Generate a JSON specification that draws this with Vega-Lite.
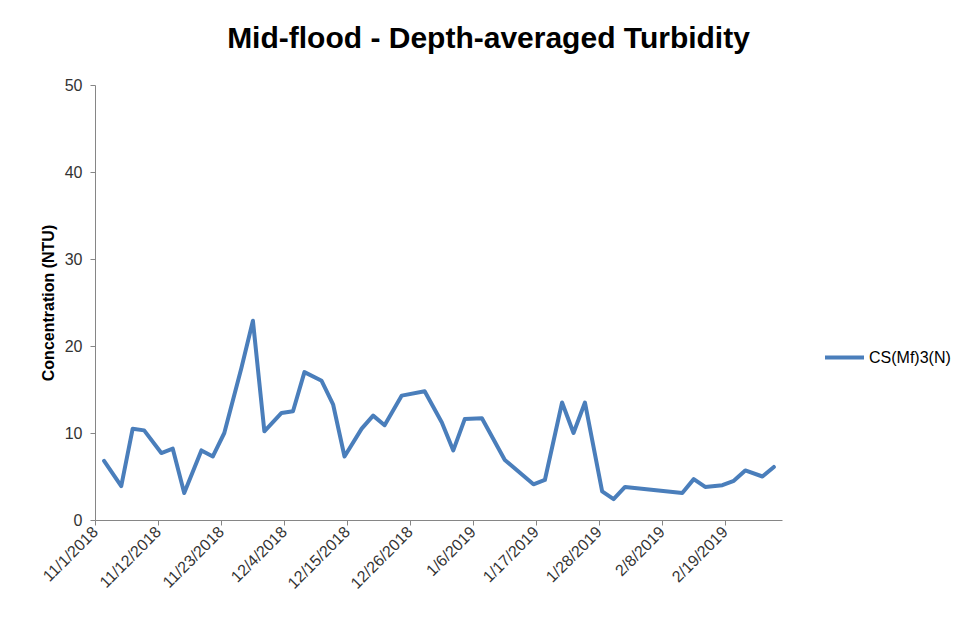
{
  "$schema": "https://vega.github.io/schema/vega-lite/v6.json",
  "autosize": {"type": "none"},
  "width": 687,
  "height": 435,
  "padding": {"left": 95, "top": 85, "right": 173, "bottom": 100},
  "background": "white",
  "title": {
    "text": "Mid-flood - Depth-averaged Turbidity",
    "font": "Liberation Sans",
    "fontSize": 30,
    "fontWeight": "bold",
    "color": "#000000",
    "anchor": "middle",
    "dx": 50,
    "offset": 23
  },
  "config": {
    "view": {"stroke": null},
    "font": "Liberation Sans",
    "axis": {
      "grid": false,
      "domainColor": "#868686",
      "tickColor": "#868686",
      "tickSize": 5,
      "labelColor": "#333333",
      "labelFontSize": 16,
      "labelFont": "Liberation Sans"
    }
  },
  "data": {
    "values": [
      {"date": "2018-11-02T14:00:00Z", "value": 6.8},
      {"date": "2018-11-05T14:00:00Z", "value": 3.9},
      {"date": "2018-11-07T14:00:00Z", "value": 10.5},
      {"date": "2018-11-09T14:00:00Z", "value": 10.3},
      {"date": "2018-11-12T14:00:00Z", "value": 7.7},
      {"date": "2018-11-14T14:00:00Z", "value": 8.2},
      {"date": "2018-11-16T14:00:00Z", "value": 3.1},
      {"date": "2018-11-19T14:00:00Z", "value": 8.0},
      {"date": "2018-11-21T14:00:00Z", "value": 7.3},
      {"date": "2018-11-23T14:00:00Z", "value": 10.0},
      {"date": "2018-11-26T14:00:00Z", "value": 17.5},
      {"date": "2018-11-28T14:00:00Z", "value": 22.9},
      {"date": "2018-11-30T14:00:00Z", "value": 10.2},
      {"date": "2018-12-03T14:00:00Z", "value": 12.3},
      {"date": "2018-12-05T14:00:00Z", "value": 12.5},
      {"date": "2018-12-07T14:00:00Z", "value": 17.0},
      {"date": "2018-12-10T14:00:00Z", "value": 16.0},
      {"date": "2018-12-12T14:00:00Z", "value": 13.3},
      {"date": "2018-12-14T14:00:00Z", "value": 7.3},
      {"date": "2018-12-17T14:00:00Z", "value": 10.5},
      {"date": "2018-12-19T14:00:00Z", "value": 12.0},
      {"date": "2018-12-21T14:00:00Z", "value": 10.9},
      {"date": "2018-12-24T14:00:00Z", "value": 14.3},
      {"date": "2018-12-28T14:00:00Z", "value": 14.8},
      {"date": "2018-12-31T14:00:00Z", "value": 11.2},
      {"date": "2019-01-02T14:00:00Z", "value": 8.0},
      {"date": "2019-01-04T14:00:00Z", "value": 11.6},
      {"date": "2019-01-07T14:00:00Z", "value": 11.7},
      {"date": "2019-01-11T14:00:00Z", "value": 6.9},
      {"date": "2019-01-16T14:00:00Z", "value": 4.1},
      {"date": "2019-01-18T14:00:00Z", "value": 4.6},
      {"date": "2019-01-21T14:00:00Z", "value": 13.5},
      {"date": "2019-01-23T14:00:00Z", "value": 10.0},
      {"date": "2019-01-25T14:00:00Z", "value": 13.5},
      {"date": "2019-01-28T14:00:00Z", "value": 3.3},
      {"date": "2019-01-30T14:00:00Z", "value": 2.4},
      {"date": "2019-02-01T14:00:00Z", "value": 3.8},
      {"date": "2019-02-11T14:00:00Z", "value": 3.1},
      {"date": "2019-02-13T14:00:00Z", "value": 4.7},
      {"date": "2019-02-15T14:00:00Z", "value": 3.8},
      {"date": "2019-02-18T14:00:00Z", "value": 4.0},
      {"date": "2019-02-20T14:00:00Z", "value": 4.5},
      {"date": "2019-02-22T14:00:00Z", "value": 5.7},
      {"date": "2019-02-25T14:00:00Z", "value": 5.0},
      {"date": "2019-02-27T14:00:00Z", "value": 6.1}
    ]
  },
  "mark": {"type": "line", "strokeWidth": 4, "strokeJoin": "round", "strokeCap": "round"},
  "encoding": {
    "x": {
      "field": "date",
      "type": "temporal",
      "scale": {
        "type": "utc",
        "domain": [
          {"year": 2018, "month": 11, "date": 1, "utc": true},
          {"year": 2019, "month": 3, "date": 1, "utc": true}
        ]
      },
      "axis": {
        "title": null,
        "format": "%-m/%-d/%Y",
        "labelAngle": -45,
        "labelAlign": "right",
        "labelBaseline": "middle",
        "labelPadding": 4,
        "labelOverlap": false,
        "labelFlush": false,
        "values": [
          {"year": 2018, "month": 11, "date": 1, "utc": true},
          {"year": 2018, "month": 11, "date": 12, "utc": true},
          {"year": 2018, "month": 11, "date": 23, "utc": true},
          {"year": 2018, "month": 12, "date": 4, "utc": true},
          {"year": 2018, "month": 12, "date": 15, "utc": true},
          {"year": 2018, "month": 12, "date": 26, "utc": true},
          {"year": 2019, "month": 1, "date": 6, "utc": true},
          {"year": 2019, "month": 1, "date": 17, "utc": true},
          {"year": 2019, "month": 1, "date": 28, "utc": true},
          {"year": 2019, "month": 2, "date": 8, "utc": true},
          {"year": 2019, "month": 2, "date": 19, "utc": true}
        ]
      }
    },
    "y": {
      "field": "value",
      "type": "quantitative",
      "scale": {"domain": [0, 50], "nice": false},
      "axis": {
        "title": "Concentration (NTU)",
        "titleFontSize": 16,
        "titleFontWeight": "bold",
        "titleColor": "#000000",
        "titlePadding": 8,
        "values": [0, 10, 20, 30, 40, 50],
        "labelPadding": 8
      }
    },
    "color": {
      "datum": "CS(Mf)3(N)",
      "type": "nominal",
      "scale": {"range": ["#4A7EBB"]},
      "legend": {
        "title": null,
        "orient": "none",
        "legendX": 728,
        "legendY": 251,
        "padding": 0,
        "symbolType": "stroke",
        "symbolSize": 1521,
        "symbolStrokeWidth": 4,
        "labelFontSize": 16,
        "labelColor": "#000000",
        "labelOffset": 3
      }
    }
  }
}
